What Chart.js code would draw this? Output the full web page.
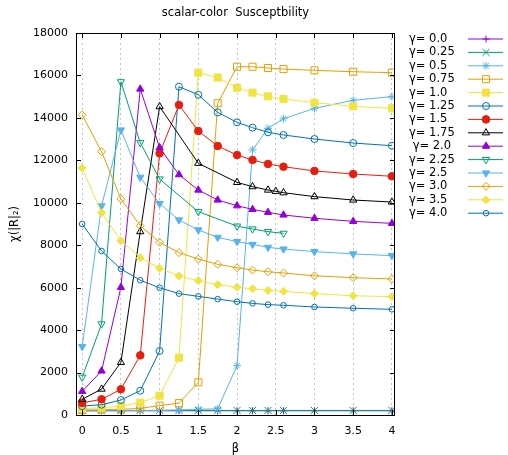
<!DOCTYPE html>
<html lang="en">
<head>
<meta charset="UTF-8">
<title>scalar-color Susceptbility</title>
<script src="https://cdn.jsdelivr.net/npm/chart.js"></script>
<style>body{margin:0;background:#fff}</style>
</head>
<body>
<canvas id="chi" width="508" height="455"></canvas>
<script>
// beta values of the runs (not every gamma has every beta)
const betaAll   = [0, 0.25, 0.5, 0.75, 1.0, 1.25, 1.5, 1.75, 2.0, 2.2, 2.4, 2.6, 3.0, 3.5, 4.0];
const betaG175  = [0, 0.25, 0.5, 0.75, 1.0, 1.5, 2.0, 2.2, 2.4, 2.5, 2.6, 3.0, 3.5, 4.0];
const betaG225  = [0, 0.25, 0.5, 0.75, 1.0, 1.5, 2.0, 2.2, 2.4, 2.6];

const gammaLabels = ['γ= 0.0', 'γ= 0.25', 'γ= 0.5', 'γ= 0.75', 'γ= 1.0', 'γ= 1.25', 'γ= 1.5',
                     'γ= 1.75', ' γ= 2.0', 'γ= 2.25', 'γ= 2.5', 'γ= 3.0', 'γ= 3.5', 'γ= 4.0'];

// susceptibility
const chiG000 = [200, 200, 200, 200, 200, 200, 200, 200, 200, 200, 200, 200, 200, 200, 200];
const chiG025 = [215, 215, 215, 215, 215, 215, 215, 215, 215, 215, 215, 215, 215, 215, 215];
const chiG050 = [200, 200, 205, 210, 215, 240, 270, 290, 2325, 12490, 13510, 13960, 14450, 14830, 15000];
const chiG075 = [230, 250, 270, 310, 440, 560, 1540, 14690, 16410, 16410, 16350, 16300, 16240, 16175, 16130];
const chiG100 = [300, 340, 425, 580, 910, 2700, 16130, 15900, 15420, 15190, 15015, 14890, 14715, 14545, 14450];
const chiG125 = [420, 485, 705, 1145, 3015, 15470, 15090, 14260, 13790, 13540, 13320, 13195, 13005, 12815, 12690];
const chiG150 = [570, 740, 1210, 2810, 12330, 14610, 13380, 12675, 12250, 12015, 11830, 11700, 11500, 11355, 11250];
const chiG175 = [740, 1220, 2480, 8640, 14530, 11860, 10960, 10760, 10600, 10540, 10475, 10290, 10130, 10035];
const chiG200 = [1115, 2075, 6015, 15360, 12600, 11325, 10600, 10130, 9860, 9690, 9550, 9425, 9270, 9125, 9030];
const chiG225 = [1780, 4290, 15700, 12830, 11120, 9580, 8900, 8765, 8640, 8560];
const chiG250 = [3220, 9850, 13430, 11200, 9960, 9190, 8720, 8370, 8170, 8040, 7900, 7820, 7700, 7590, 7510];
const chiG300 = [14135, 12410, 10180, 8920, 8140, 7650, 7350, 7100, 6940, 6830, 6750, 6690, 6560, 6470, 6410];
const chiG350 = [11640, 9530, 8215, 7410, 6910, 6550, 6330, 6140, 6015, 5950, 5870, 5830, 5715, 5620, 5575];
const chiG400 = [9000, 7730, 6880, 6350, 5995, 5720, 5590, 5460, 5340, 5260, 5200, 5170, 5090, 5030, 4980];

const xTickVals = [0, 0.5, 1, 1.5, 2, 2.5, 3, 3.5, 4];
const yTickVals = [0, 2000, 4000, 6000, 8000, 10000, 12000, 14000, 16000, 18000];

// gnuplot-ish line/point styles
const series = [
    {beta: betaAll,  chi: chiG000, color: '#9400D3', style: 'cross',    r: 3.5, fill: false},
    {beta: betaAll,  chi: chiG025, color: '#009E73', style: 'crossRot', r: 5,   fill: false},
    {beta: betaAll,  chi: chiG050, color: '#56B4E9', style: 'star',     r: 4,   fill: false},
    {beta: betaAll,  chi: chiG075, color: '#E69F00', style: 'rect',     r: 5,   fill: false},
    {beta: betaAll,  chi: chiG100, color: '#F0E442', style: 'rect',     r: 5,   fill: true},
    {beta: betaAll,  chi: chiG125, color: '#0072B2', style: 'circle',   r: 3.5, fill: false},
    {beta: betaAll,  chi: chiG150, color: '#E51E10', style: 'circle',   r: 3.8, fill: true},
    {beta: betaG175, chi: chiG175, color: '#000000', style: 'triangle', r: 4.2, fill: false},
    {beta: betaAll,  chi: chiG200, color: '#9400D3', style: 'triangle', r: 4.2, fill: true},
    {beta: betaG225, chi: chiG225, color: '#009E73', style: 'triangle', r: 4.2, fill: false, rot: 180},
    {beta: betaAll,  chi: chiG250, color: '#56B4E9', style: 'triangle', r: 4.2, fill: true, rot: 180},
    {beta: betaAll,  chi: chiG300, color: '#E69F00', style: 'rectRot',  r: 4,   fill: false},
    {beta: betaAll,  chi: chiG350, color: '#F0E442', style: 'rectRot',  r: 4,   fill: true},
    {beta: betaAll,  chi: chiG400, color: '#0072B2', style: 'circle',   r: 2.8, fill: false}
];

const FONT = 'DejaVu Sans';
Chart.defaults.color = '#000';
Chart.defaults.font.family = FONT;

const gnuplotBits = {
    id: 'gnuplotBits',
    afterDatasetsDraw(chart) {
        const {ctx, chartArea: a, scales: {x, y}} = chart;
        ctx.save();
        ctx.strokeStyle = '#000';
        ctx.lineWidth = 1;
        ctx.beginPath();
        xTickVals.forEach(v => {
            const px = Math.round(x.getPixelForValue(v)) + 0.5;
            ctx.moveTo(px, a.bottom); ctx.lineTo(px, a.bottom - 5);
            ctx.moveTo(px, a.top); ctx.lineTo(px, a.top + 5);
        });
        yTickVals.forEach(v => {
            const py = Math.round(y.getPixelForValue(v)) + 0.5;
            ctx.moveTo(a.left, py); ctx.lineTo(a.left + 5, py);
            ctx.moveTo(a.right, py); ctx.lineTo(a.right - 5, py);
        });
        ctx.stroke();
        ctx.strokeRect(a.left + 0.5, a.top + 0.5, a.right - a.left - 1, a.bottom - a.top);
        ctx.restore();
    },
    afterDraw(chart) {
        const {ctx, chartArea: a} = chart;
        ctx.save();
        ctx.fillStyle = '#000';
        ctx.font = '11.5px "' + FONT + '"';
        ctx.textAlign = 'center';
        ctx.textBaseline = 'middle';
        ctx.fillText('scalar-color  Susceptbility', (a.left + a.right) / 2, 13);

        // key outside on the right: text, then sample line with marker
        ctx.textAlign = 'left';
        series.forEach((s, i) => {
            const ry = 39 + i * 13.4;
            ctx.fillStyle = '#000';
            ctx.fillText(gammaLabels[i], 409, ry);
            ctx.strokeStyle = s.color;
            ctx.lineWidth = 1;
            ctx.beginPath();
            ctx.moveTo(468, ry); ctx.lineTo(503, ry);
            ctx.stroke();
            ctx.fillStyle = s.fill ? s.color : 'rgba(0,0,0,0)';
            Chart.helpers.drawPoint(ctx, {pointStyle: s.style, radius: s.r, rotation: s.rot || 0, borderWidth: 1}, 486, ry);
        });
        ctx.restore();
    }
};

new Chart(document.getElementById('chi'), {
    type: 'line',
    data: {
        datasets: series.map((s, i) => ({
            label: gammaLabels[i],
            data: s.beta.map((b, k) => ({x: b, y: s.chi[k]})),
            borderColor: s.color,
            borderWidth: 1,
            backgroundColor: s.color,
            pointStyle: s.style,
            pointRadius: s.r,
            pointRotation: s.rot || 0,
            pointBorderColor: s.color,
            pointBackgroundColor: s.fill ? s.color : 'rgba(0,0,0,0)',
            pointBorderWidth: 1,
            tension: 0,
            fill: false,
            order: series.length - i
        }))
    },
    options: {
        responsive: false,
        animation: false,
        layout: {padding: {left: 0, right: 113, top: 33, bottom: 0}},
        plugins: {legend: {display: false}, title: {display: false}, tooltip: {enabled: false}},
        scales: {
            x: {
                type: 'linear',
                min: -0.08,
                max: 4.04,
                afterBuildTicks: s => { s.ticks = xTickVals.map(v => ({value: v})); },
                afterFit: s => { s.height = 40; },
                ticks: {callback: v => String(v), padding: 10, maxRotation: 0, autoSkip: false, font: {size: 11}},
                grid: {color: '#c4c4c4', lineWidth: 1, drawTicks: false},
                border: {display: false, dash: [2, 3]},
                title: {display: true, text: 'β', font: {size: 11.5, lineHeight: 1}, padding: {top: 0, bottom: 0}}
            },
            y: {
                min: 0,
                max: 18000,
                afterBuildTicks: s => { s.ticks = yTickVals.map(v => ({value: v})); },
                afterFit: s => { s.width = 76; },
                ticks: {callback: v => String(v), padding: 8, autoSkip: false, font: {size: 11}},
                grid: {display: false, drawTicks: false},
                border: {display: false},
                title: {display: true, text: 'χ(|R|₂)', font: {size: 11.5, lineHeight: 1}, padding: {top: 9, bottom: 0}}
            }
        }
    },
    plugins: [gnuplotBits]
});
</script>
</body>
</html>
